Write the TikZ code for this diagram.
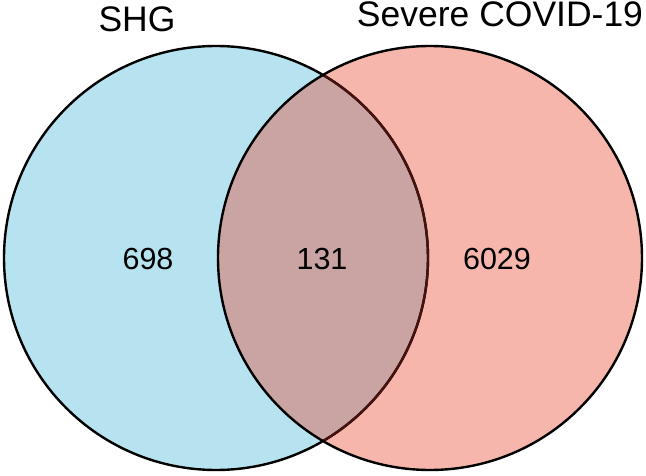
\documentclass[tikz,border=0pt]{standalone}
\usepackage{fontspec}
\setmainfont{Liberation Sans}
\definecolor{shgblue}{RGB}{182,227,239}
\definecolor{covpink}{RGB}{247,182,171}
\definecolor{overlapc}{RGB}{201,164,163}
\definecolor{innerline}{RGB}{70,18,14}
\tikzset{
  setlabel/.style={anchor=base, inner sep=0pt, font=\fontsize{35.5}{40}\selectfont},
  countlabel/.style={anchor=base, inner sep=0pt, font=\fontsize{30.5}{36}\selectfont},
  rim/.style={line width=2.4pt}
}
\begin{document}
\begin{tikzpicture}[x=1pt,y=1pt]
\useasboundingbox (0,0) rectangle (646,475);
\coordinate (cL) at (216,217);
\coordinate (cR) at (430,217);
% fills
\fill[shgblue] (cL) circle[radius=212];
\fill[covpink] (cR) circle[radius=212];
\begin{scope}
  \clip (cL) circle[radius=212];
  \fill[overlapc] (cR) circle[radius=212];
\end{scope}
% outlines
\draw[rim] (cL) circle[radius=212];
\begin{scope}
  \clip (cR) circle[radius=212];
  \draw[rim, innerline] (cL) circle[radius=212];
\end{scope}
\draw[rim] (cR) circle[radius=212];
% labels
\node[setlabel] (shg) at (137,443.5) {SHG};
\node[setlabel] (sev) at (500,448) {Severe COVID-19};
\node[countlabel] (a) at (148,205.7) {698};
\node[countlabel] (ab) at (322,205.7) {131};
\node[countlabel] (b) at (497,205.7) {6029};
\end{tikzpicture}
\end{document}
